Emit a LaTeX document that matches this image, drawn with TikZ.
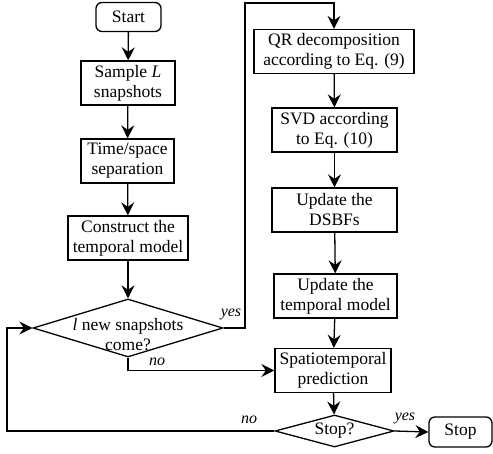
\documentclass[tikz,border=0pt]{standalone}
\usepackage{fontspec}
\setmainfont{Liberation Serif}
\usetikzlibrary{shapes.geometric,arrows.meta}

\begin{document}
\begin{tikzpicture}[x=1pt,y=1pt,
    every node/.style={font=\fontsize{17.5}{20}\selectfont, align=center, inner sep=1pt},
    proc/.style={draw, line width=1.3pt, minimum height=44pt},
    term/.style={draw, line width=1.3pt, rounded corners=6pt, minimum height=29pt},
    decision/.style={draw, diamond, line width=1.3pt, inner sep=0pt},
    tag/.style={font=\fontsize{16}{18}\selectfont\itshape},
    flow/.style={line width=1.3pt, -{Stealth[length=13pt,width=13pt,inset=4.5pt]}}]
      \useasboundingbox (0,0) rectangle (493,453);
      % Left column
      \node[term, minimum width=65pt] (start) at (128.5,436) {Start};
      \node[proc, minimum width=94pt] (sample) at (128,370) {Sample \textit{L}\\snapshots};
      \node[proc, minimum width=93pt] (separate) at (127.5,292) {Time/space\\separation};
      \node[proc, minimum width=120pt] (construct) at (128,215) {Construct the\\temporal model};
      \node[decision, minimum width=190pt, minimum height=58pt] (newsnap) at (128,125) {};
      \node (newsnaptext) at (128,118) {\textit{l} new snapshots\\come?};
      % Right column
      \node[proc, minimum width=160pt] (qr) at (334,401.5) {QR decomposition\\according to Eq. (9)};
      \node[proc, minimum width=125pt] (svd) at (334.5,323) {SVD according\\to Eq. (10)};
      \node[proc, minimum width=125pt] (dsbf) at (334.5,243) {Update the\\DSBFs};
      \node[proc, minimum width=123pt] (updatemodel) at (335.5,157) {Update the\\temporal model};
      \node[proc, minimum width=116pt] (predict) at (333,82.5) {Spatiotemporal\\prediction};
      \node[decision, minimum width=119pt, minimum height=32pt] (stopq) at (334.5,22) {};
      \node (stopqtext) at (334.5,22) {Stop?};
      \node[term, minimum width=63pt, minimum height=30pt] (stop) at (460.5,21) {Stop};
      % Corners of the long connectors
      \coordinate (yescorner) at (245,450);
      \coordinate (loopcorner) at (7,125);
      % Arrows
      \draw[flow] (start) -- (sample);
      \draw[flow] (sample) -- (separate);
      \draw[flow] (separate) -- (construct);
      \draw[flow] (construct) -- (newsnap);
      \draw[flow] (newsnap.east) -| (yescorner) -| (qr.north);
      \draw[flow] (newsnap.south) |- (predict.west);
      \draw[flow] (qr) -- (svd);
      \draw[flow] (svd) -- (dsbf);
      \draw[flow] (dsbf) -- (updatemodel);
      \draw[flow] (updatemodel) -- (predict);
      \draw[flow] (predict) -- (stopq);
      \draw[flow] (stopq.east) -- (stop.west);
      \draw[flow] (stopq.west) -| (loopcorner) -- (newsnap.west);
      % Labels
      \node[tag] (yesnew) at (231,139) {yes};
      \node[tag] (nonew) at (157,91) {no};
      \node[tag] (nostop) at (249,33) {no};
      \node[tag] (yesstop) at (405,35) {yes};
\end{tikzpicture}
\end{document}
